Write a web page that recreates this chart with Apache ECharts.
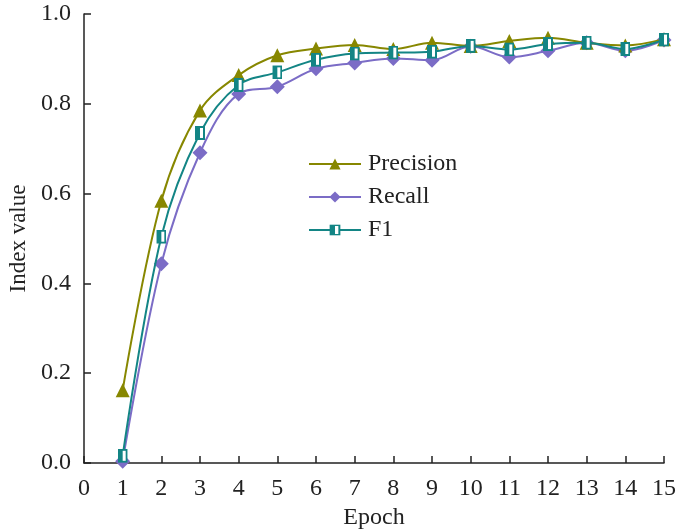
<!DOCTYPE html>
<html>
<head>
<meta charset="utf-8">
<script src="https://cdn.jsdelivr.net/npm/echarts@6/dist/echarts.min.js"></script>
<style>
  html, body { margin: 0; padding: 0; background: #fff; }
  #chart { width: 679px; height: 532px; }
</style>
</head>
<body>
<div id="chart"></div>
<script>
// Training metrics per epoch
const epochs = [1, 2, 3, 4, 5, 6, 7, 8, 9, 10, 11, 12, 13, 14, 15];
const precision = [0.162, 0.584, 0.785, 0.864, 0.908, 0.923, 0.931, 0.922, 0.936, 0.929, 0.940, 0.947, 0.936, 0.930, 0.944];
const recall    = [0.004, 0.444, 0.691, 0.822, 0.838, 0.878, 0.891, 0.901, 0.897, 0.928, 0.904, 0.918, 0.936, 0.918, 0.942];
const f1        = [0.016, 0.504, 0.735, 0.842, 0.870, 0.898, 0.912, 0.914, 0.916, 0.929, 0.921, 0.933, 0.936, 0.922, 0.943];
const xTicks = [0, 1, 2, 3, 4, 5, 6, 7, 8, 9, 10, 11, 12, 13, 14, 15];
const yTicks = [0.0, 0.2, 0.4, 0.6, 0.8, 1.0];

const colPrecision = '#878700';
const colRecall = '#7b6cc6';
const colF1 = '#138585';

// Half-filled square marker for the F1 series
const halfSquare = 'image://data:image/svg+xml;utf8,' + encodeURIComponent(
  '<svg xmlns="http://www.w3.org/2000/svg" width="10" height="14" viewBox="0 0 10 14">' +
  '<rect x="1" y="1" width="8" height="12" fill="#ffffff" stroke="' + colF1 + '" stroke-width="2"/>' +
  '<rect x="1" y="1" width="4" height="12" fill="' + colF1 + '"/></svg>');

const pairs = arr => epochs.map((e, i) => [e, arr[i]]);
const font = '"Liberation Serif", "Times New Roman", serif';
const ink = '#222';

const chart = echarts.init(document.getElementById('chart'));
chart.setOption({
  backgroundColor: '#ffffff',
  animation: false,
  grid: { left: 84, right: 15, top: 14, bottom: 69, containLabel: false, outerBoundsMode: 'none' },
  legend: {
    orient: 'vertical',
    left: 303,
    top: 147,
    itemWidth: 52,
    itemHeight: 14,
    itemGap: 9,
    textStyle: { fontFamily: font, fontSize: 24, color: ink, padding: [0, 0, 0, 2] },
    data: ['Precision', 'Recall', 'F1']
  },
  xAxis: {
    type: 'value',
    min: 0, max: 15, interval: 1,
    name: 'Epoch',
    nameLocation: 'middle',
    nameGap: 42,
    nameTextStyle: { fontFamily: font, fontSize: 24, color: ink },
    axisLine: { lineStyle: { color: ink, width: 1.5 } },
    axisTick: { inside: true, length: 7, lineStyle: { color: ink, width: 1.5 } },
    axisLabel: {
      fontFamily: font, fontSize: 24, color: ink, margin: 14,
      formatter: v => (xTicks.includes(v) ? String(v) : '')
    },
    splitLine: { show: false }
  },
  yAxis: {
    type: 'value',
    min: 0, max: 1, interval: 0.2,
    name: 'Index value',
    nameLocation: 'middle',
    nameGap: 48,
    nameTextStyle: { fontFamily: font, fontSize: 23, color: ink },
    axisLine: { show: true, lineStyle: { color: ink, width: 1.5 } },
    axisTick: { show: true, inside: true, length: 7, lineStyle: { color: ink, width: 1.5 } },
    axisLabel: {
      fontFamily: font, fontSize: 24, color: ink, margin: 13,
      formatter: v => yTicks.find(t => Math.abs(t - v) < 1e-9).toFixed(1)
    },
    splitLine: { show: false }
  },
  series: [
    {
      name: 'Precision', type: 'line', smooth: 0.35,
      data: pairs(precision),
      symbol: 'triangle', symbolSize: 14,
      itemStyle: { color: colPrecision },
      lineStyle: { color: colPrecision, width: 2 },
      z: 3
    },
    {
      name: 'Recall', type: 'line', smooth: 0.35,
      data: pairs(recall),
      symbol: 'diamond', symbolSize: 15,
      itemStyle: { color: colRecall },
      lineStyle: { color: colRecall, width: 2 },
      z: 2
    },
    {
      name: 'F1', type: 'line', smooth: 0.35,
      data: pairs(f1),
      symbol: halfSquare, symbolSize: [10, 14],
      itemStyle: { color: colF1 },
      lineStyle: { color: colF1, width: 2 },
      z: 4
    }
  ]
});
</script>
</body>
</html>
